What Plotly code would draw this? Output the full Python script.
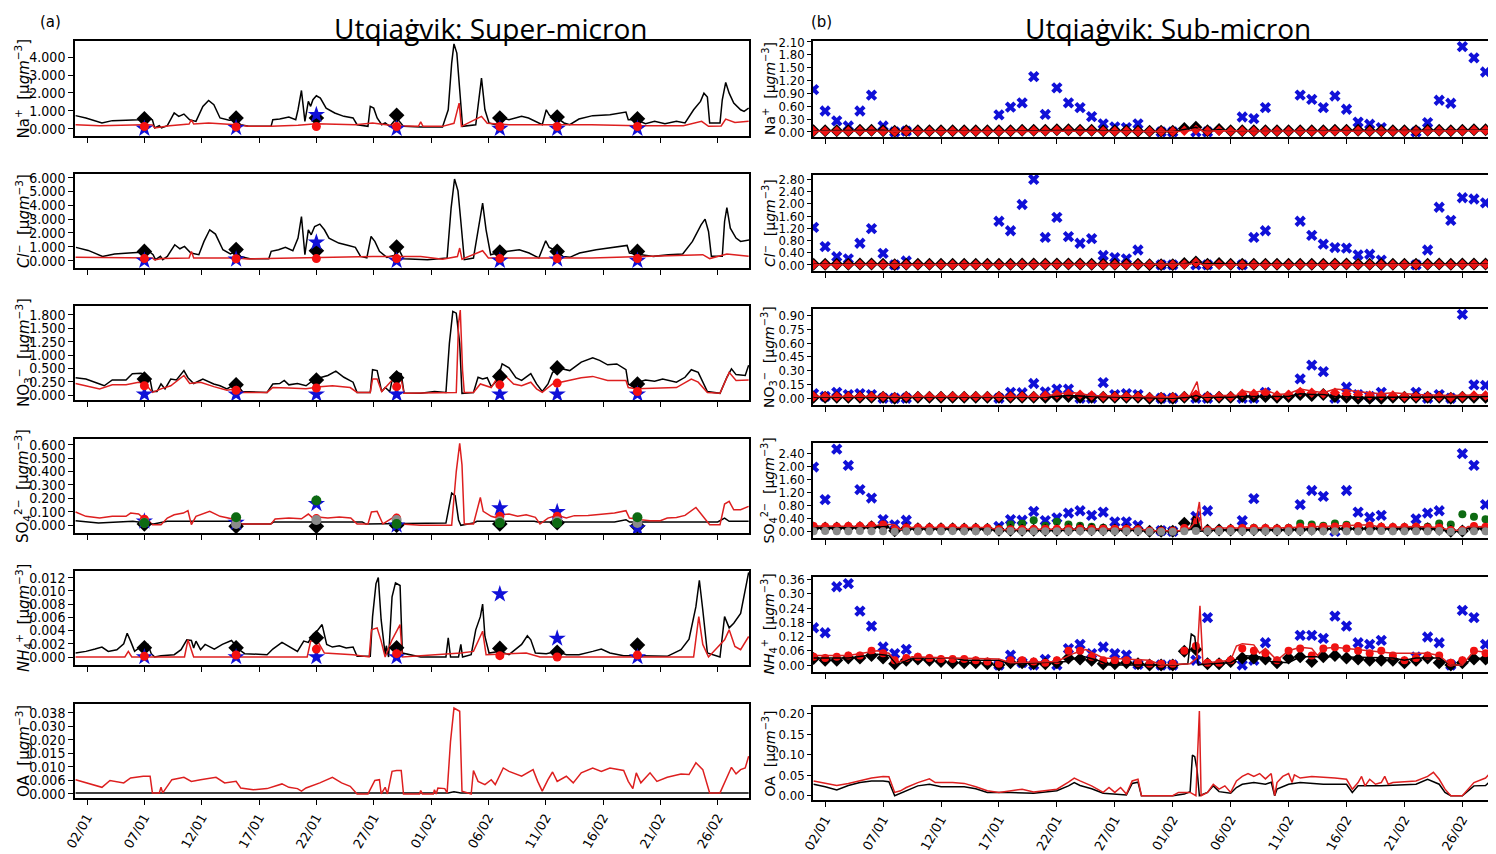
import pandas as pd
import plotly.graph_objects as go

START = pd.Timestamp("2020-01-01")

# ---------------- super-micron (left column), days since 1 Jan ----------------
SUP_DAYS = [6, 14, 21, 28, 37, 42, 49]

NA_SUP_BLK_T = [0, 0.9, 2.3, 3.2, 4.4, 5.5, 6.1, 6.7, 6.9, 7.3, 7.5, 8.0, 8.6, 9.0, 9.45, 9.95, 10.5, 11.1, 11.6, 12.06,
                12.6, 13.4, 14.0, 14.4, 15.1, 17.05, 17.2, 17.8, 18.6, 19.2, 19.4, 19.7, 20.0, 20.3, 20.5, 20.7, 21.0,
                21.35, 21.85, 22.6, 23.4, 24.2, 24.55, 25.5, 25.7, 26.0, 26.3, 26.7, 27.0, 27.4, 28.0, 28.6, 30.1, 32.0,
                32.5, 32.8, 33.0, 33.25, 33.5, 33.75, 34.9, 35.2, 35.4, 35.7, 36.06, 36.6, 37.2, 37.8, 38.4, 38.9, 39.5,
                40.1, 40.7, 41.05, 41.3, 41.6, 42.0, 42.6, 43.1, 43.9, 45.1, 46.6, 48.0, 48.2, 48.9, 49.7, 50.5, 51.4,
                52.4, 53.15, 53.9, 54.5, 54.8, 55.1, 55.3, 56.2, 56.4, 56.7, 57.0, 57.4, 58.0, 58.3, 58.7]
NA_SUP_BLK_V = [0.73, 0.6, 0.32, 0.45, 0.47, 0.5, 0.6, 0.5, 0.04, 0.17, 0.04, 0.17, 0.88, 0.69, 0.82, 0.5, 0.41, 1.25, 1.58,
                1.34, 0.6, 0.47, 0.5, 0.22, 0.13, 0.13, 0.5, 0.54, 0.65, 0.5, 1.06, 2.14, 0.41, 1.53, 1.25, 1.62, 1.84,
                1.71, 1.15, 0.88, 0.69, 0.6, 0.22, 0.13, 1.25, 1.15, 0.6, 0.22, 0.32, 0.13, 0.6, 0.13, 0.09, 0.09, 1.06,
                3.67, 4.75, 4.23, 2.18, 0.13, 0.22, 1.99, 2.83, 1.06, 0.32, 0.22, 0.6, 0.5, 0.6, 0.69, 0.6, 0.41, 0.22,
                1.06, 0.78, 0.6, 0.6, 0.32, 0.22, 0.54, 0.73, 0.78, 0.93, 0.5, 0.5, 0.28, 0.41, 0.28, 0.41, 0.32, 1.06,
                1.53, 1.99, 1.77, 0.32, 0.32, 1.62, 2.59, 1.99, 1.43, 1.06, 0.97, 1.15]
NA_SUP_RED_T = [0, 2.1, 5.9, 6.7, 6.9, 7.4, 8.2, 9.9, 10.1, 10.3, 11.6, 14.0, 15.1, 17.05, 19.4, 21.0, 24.4, 25.9, 27.8,
                29.9, 30.1, 30.3, 32.0, 33.0, 33.45, 33.65, 35.4, 35.9, 37.8, 41.0, 45.0, 49.0, 53.0, 54.6, 55.2, 56.3,
                56.7, 57.5, 58.7]
NA_SUP_RED_V = [0.22, 0.17, 0.22, 0.2, 0.04, 0.1, 0.17, 0.26, 0.5, 0.26, 0.32, 0.22, 0.13, 0.13, 0.19, 0.28, 0.22, 0.32,
                0.17, 0.13, 0.38, 0.13, 0.13, 0.3, 1.43, 0.13, 0.69, 0.3, 0.22, 0.22, 0.22, 0.17, 0.17, 0.41, 0.13, 0.15,
                0.54, 0.35, 0.41]
NA_SUP_BLK_M = [0.55, 0.6, 0.6, 0.75, 0.6, 0.65, 0.55]
NA_SUP_RED_M = [0.12, 0.1, 0.12, 0.12, 0.12, 0.12, 0.12]
NA_SUP_BLU_M = [0.0, 0.05, 0.78, 0.0, 0.0, 0.0, 0.0]

CL_SUP_BLK_T = [0.03, 1.1, 2.35, 3.4, 4.66, 5.7, 6.35, 6.76, 6.97, 7.4, 7.6, 8.0, 8.65, 9.1, 9.5, 10.05, 10.75, 11.2, 11.7,
                12.2, 12.85, 13.5, 14.0, 14.4, 15.2, 16.85, 17.06, 17.7, 18.3, 18.95, 19.4, 19.7, 20.0, 20.3, 20.55,
                20.85, 21.3, 21.7, 22.1, 22.95, 23.8, 24.4, 24.85, 25.4, 25.77, 26.1, 26.5, 27.15, 27.8, 28.1, 28.6,
                30.7, 32.4, 32.75, 33.05, 33.35, 33.6, 33.9, 34.7, 35.15, 35.5, 35.8, 36.2, 37.0, 37.9, 38.7, 39.55,
                40.4, 41.0, 41.3, 41.9, 42.5, 43.1, 43.95, 45.4, 47.1, 48.1, 48.3, 49.2, 50.4, 51.7, 52.95, 53.8, 54.55,
                54.9, 55.2, 55.45, 56.4, 56.6, 56.8, 57.1, 57.6, 58.0, 58.8]
CL_SUP_BLK_V = [0.96, 0.74, 0.31, 0.48, 0.55, 0.6, 0.72, 0.43, 0.07, 0.31, 0.07, 0.31, 1.15, 0.86, 1.03, 0.55, 0.43, 1.39,
                2.23, 1.92, 0.79, 0.48, 0.67, 0.31, 0.14, 0.14, 0.67, 0.79, 0.96, 0.72, 1.63, 3.19, 0.43, 2.23, 1.87,
                2.47, 2.64, 2.23, 1.63, 1.27, 1.1, 0.96, 0.31, 0.2, 1.75, 1.39, 0.67, 0.24, 0.38, 0.98, 0.14, 0.07, 0.19,
                3.79, 5.9, 5.04, 2.83, 0.07, 0.19, 2.59, 4.15, 2.23, 0.43, 0.6, 0.72, 0.79, 0.55, 0.19, 1.44, 0.96, 0.72,
                0.31, 0.24, 0.55, 0.79, 0.96, 1.1, 0.55, 0.43, 0.31, 0.43, 0.48, 1.39, 2.59, 3.0, 2.11, 0.31, 0.31, 2.83,
                3.84, 2.35, 1.63, 1.39, 1.51]
CL_SUP_RED_T = [0, 6.7, 6.9, 7.5, 9.9, 10.1, 10.3, 14.0, 15.0, 25.9, 30.1, 32.0, 33.3, 33.5, 33.7, 35.5, 36.0, 45.0, 54.7,
                55.3, 56.8, 58.7]
CL_SUP_RED_V = [0.24, 0.2, 0.05, 0.15, 0.2, 0.67, 0.2, 0.2, 0.12, 0.3, 0.3, 0.1, 0.3, 0.91, 0.1, 0.72, 0.2, 0.2, 0.43,
                0.15, 0.48, 0.31]
CL_SUP_BLK_M = [0.67, 0.8, 0.72, 0.98, 0.62, 0.67, 0.67]
CL_SUP_RED_M = [0.15, 0.14, 0.15, 0.15, 0.15, 0.15, 0.15]
CL_SUP_BLU_M = [0.0, 0.1, 1.32, 0.0, 0.0, 0.1, 0.0]

NO3_SUP_BLK_T = [0, 0.9, 2.1, 2.5, 3.2, 4.4, 4.95, 5.7, 6.1, 6.5, 6.7, 7.1, 7.45, 7.8, 8.3, 8.8, 9.45, 9.8, 10.3, 11.1,
                 12.05, 12.6, 13.2, 14.0, 14.55, 16.7, 17.2, 17.8, 18.2, 18.6, 19.35, 20.1, 20.7, 21.3, 22.0, 22.7,
                 23.4, 24.2, 24.55, 25.7, 25.9, 26.3, 26.7, 27.0, 27.4, 27.7, 28.0, 28.4, 28.65, 30.1, 31.3, 32.3, 32.6,
                 32.9, 33.2, 33.5, 33.7, 34.7, 35.1, 35.5, 35.9, 36.25, 36.8, 37.2, 37.8, 38.4, 38.9, 39.7, 40.2, 40.7,
                 41.2, 41.6, 42.4, 43.1, 44.1, 45.1, 45.7, 46.4, 47.2, 48.0, 48.2, 48.7, 49.1, 49.7, 50.5, 51.2, 52.4,
                 53.15, 53.7, 54.3, 55.1, 56.2, 56.8, 57.2, 57.6, 58.4, 58.7]
NO3_SUP_BLK_V = [0.39, 0.36, 0.25, 0.21, 0.34, 0.34, 0.48, 0.49, 0.46, 0.34, 0.08, 0.08, 0.25, 0.14, 0.36, 0.34, 0.55,
                 0.39, 0.26, 0.36, 0.25, 0.21, 0.14, 0.26, 0.08, 0.06, 0.25, 0.26, 0.33, 0.23, 0.26, 0.21, 0.33, 0.39,
                 0.44, 0.54, 0.4, 0.29, 0.06, 0.06, 0.57, 0.55, 0.08, 0.17, 0.08, 0.46, 0.51, 0.48, 0.04, 0.04, 0.08,
                 0.06, 1.16, 1.88, 1.84, 1.16, 0.04, 0.06, 0.4, 0.36, 0.39, 0.19, 0.34, 0.7, 0.61, 0.39, 0.33, 0.48,
                 0.25, 0.08, 0.25, 0.51, 0.59, 0.55, 0.74, 0.84, 0.78, 0.68, 0.7, 0.57, 0.25, 0.17, 0.29, 0.34, 0.31,
                 0.36, 0.29, 0.4, 0.57, 0.51, 0.08, 0.04, 0.4, 0.59, 0.46, 0.44, 0.67]
NO3_SUP_RED_T = [0, 0.9, 2.1, 3.2, 4.4, 5.5, 6.1, 6.7, 7.45, 8.3, 9.45, 9.95, 10.9, 12.05, 13.2, 14.0, 14.55, 16.7, 17.2,
                 18.6, 20.1, 21.3, 22.4, 23.95, 24.55, 25.7, 25.9, 26.3, 26.7, 27.7, 28.4, 28.65, 32.0, 33.2, 33.4,
                 33.55, 33.75, 33.9, 34.7, 35.3, 36.25, 37.0, 37.6, 38.2, 38.9, 39.7, 40.2, 40.7, 41.6, 42.8, 44.1,
                 45.1, 46.4, 48.0, 48.2, 48.9, 50.5, 52.4, 53.7, 54.3, 55.1, 56.2, 57.0, 57.6, 58.7]
NO3_SUP_RED_V = [0.26, 0.21, 0.14, 0.23, 0.23, 0.29, 0.25, 0.06, 0.14, 0.21, 0.44, 0.26, 0.29, 0.19, 0.11, 0.14, 0.06,
                 0.06, 0.17, 0.16, 0.14, 0.19, 0.21, 0.17, 0.06, 0.06, 0.36, 0.36, 0.08, 0.36, 0.34, 0.04, 0.06, 0.06,
                 1.61, 1.91, 0.55, 0.06, 0.06, 0.25, 0.17, 0.48, 0.4, 0.25, 0.21, 0.29, 0.14, 0.06, 0.25, 0.31, 0.39,
                 0.42, 0.33, 0.33, 0.17, 0.14, 0.16, 0.17, 0.36, 0.29, 0.06, 0.04, 0.51, 0.33, 0.34]
NO3_SUP_BLK_M = [0.36, 0.23, 0.34, 0.39, 0.42, 0.61, 0.25]
NO3_SUP_RED_M = [0.21, 0.11, 0.16, 0.19, 0.23, 0.27, 0.08]
NO3_SUP_BLU_M = [0.02, 0.02, 0.02, 0.02, 0.02, 0.02, 0.02]

SO4_SUP_BLK_T = [0, 2.0, 5.0, 6.8, 8.0, 14.0, 14.5, 17.0, 17.3, 25.0, 25.3, 32.3, 32.8, 33.1, 33.4, 33.6, 34.7, 35.0,
                 40.0, 40.3, 47.0, 48.0, 48.3, 56.0, 56.6, 57.0, 58.7]
SO4_SUP_BLK_V = [0.035, 0.017, 0.03, 0.01, 0.03, 0.03, 0.01, 0.01, 0.025, 0.025, 0.01, 0.017, 0.24, 0.22, 0.04, 0.0,
                 0.017, 0.03, 0.03, 0.025, 0.025, 0.042, 0.025, 0.025, 0.054, 0.03, 0.03]
SO4_SUP_RED_T = [0, 0.9, 2.1, 3.2, 4.4, 4.8, 5.5, 5.9, 6.3, 6.7, 7.45, 8.0, 8.6, 9.4, 9.8, 10.1, 10.5, 11.7, 12.6, 14.0,
                 14.4, 17.05, 17.4, 18.6, 19.7, 20.3, 20.7, 21.1, 22.0, 23.0, 24.0, 24.55, 25.5, 25.8, 26.3, 26.8,
                 27.6, 28.0, 28.4, 30.1, 32.8, 33.2, 33.5, 33.7, 33.9, 34.7, 35.3, 35.55, 36.25, 36.8, 37.2, 37.8,
                 38.55, 39.3, 40.1, 40.5, 41.2, 42.0, 42.8, 43.5, 44.7, 45.85, 47.0, 48.0, 48.3, 49.3, 50.1, 51.0,
                 51.6, 52.4, 53.15, 54.1, 54.5, 55.3, 56.2, 56.6, 57.0, 57.4, 58.0, 58.7]
SO4_SUP_RED_V = [0.099, 0.067, 0.054, 0.067, 0.067, 0.091, 0.084, 0.054, 0.042, 0.005, 0.005, 0.054, 0.079, 0.091,
                 0.109, 0.005, 0.067, 0.104, 0.067, 0.042, 0.01, 0.01, 0.047, 0.054, 0.049, 0.084, 0.054, 0.062, 0.054,
                 0.062, 0.054, 0.01, 0.01, 0.099, 0.104, 0.01, 0.054, 0.079, 0.01, 0.0, 0.0, 0.4, 0.61, 0.45, 0.01,
                 0.01, 0.207, 0.104, 0.067, 0.054, 0.079, 0.084, 0.067, 0.079, 0.059, 0.01, 0.054, 0.074, 0.054, 0.072,
                 0.074, 0.084, 0.091, 0.109, 0.054, 0.042, 0.035, 0.035, 0.054, 0.059, 0.074, 0.133, 0.091, 0.005,
                 0.005, 0.158, 0.178, 0.116, 0.116, 0.141]
SO4_SUP_BLK_M = [0.01, -0.007, -0.007, 0.0, 0.01, 0.02, -0.005]
SO4_SUP_RED_M = [0.045, 0.04, 0.05, 0.054, 0.067, 0.067, 0.054]
SO4_SUP_BLU_M = [0.03, 0.02, 0.16, 0.0, 0.128, 0.1, -0.02]
SO4_SUP_GRY_M = [0.02, 0.01, 0.04, 0.04, 0.03, 0.03, 0.017]
SO4_SUP_GRN_M = [0.017, 0.06, 0.185, 0.01, 0.017, 0.017, 0.06]

NH4_SUP_BLK_T = [0, 0.9, 1.7, 2.3, 2.85, 3.6, 4.2, 4.5, 4.8, 5.15, 5.7, 6.3, 6.6, 6.9, 7.45, 8.6, 9.2, 9.7, 10.1, 10.3,
                 10.5, 10.9, 11.3, 12.1, 12.8, 13.6, 14.2, 14.75, 16.7, 17.2, 18.0, 18.8, 19.35, 19.9, 20.3, 20.7,
                 21.1, 21.5, 21.9, 22.4, 23.0, 23.6, 24.2, 24.55, 25.7, 25.9, 26.2, 26.4, 26.65, 27.0, 27.1, 27.3,
                 27.6, 27.9, 28.3, 28.5, 30.1, 32.3, 32.5, 32.7, 33.4, 33.6, 33.75, 34.5, 34.9, 35.3, 35.5, 35.7, 36.06,
                 37.0, 37.8, 38.9, 39.4, 39.7, 40.1, 41.05, 42.0, 42.8, 43.9, 45.1, 45.85, 46.6, 47.8, 49.3, 51.6,
                 52.8, 53.5, 54.1, 54.4, 54.7, 55.1, 56.2, 56.6, 57.0, 57.4, 58.0, 58.4, 58.7]
NH4_SUP_BLK_V = [0.0006, 0.00085, 0.0012, 0.0015, 0.00085, 0.0011, 0.002, 0.0036, 0.0024, 0.00085, 0.0016, 0.0019, 0.0005,
                 0.0, 0.0002, 0.00035, 0.0011, 0.0026, 0.0025, 0.00135, 0.0024, 0.0011, 0.0019, 0.0012, 0.0019, 0.0025,
                 0.0012, 0.0005, 0.00035, 0.0012, 0.0022, 0.00135, 0.00085, 0.0024, 0.0022, 0.0034, 0.004, 0.0049,
                 0.0019, 0.0015, 0.0017, 0.00135, 0.0015, 0.0001, 0.0001, 0.0061, 0.0111, 0.012, 0.0056, 0.00035,
                 0.0017, 0.0, 0.0091, 0.0112, 0.0108, 0.0006, 0.0, 0.0, 0.0029, 0.0, 0.0, 0.0019, 0.0, 0.00035, 0.0041,
                 0.0061, 0.008, 0.0031, 0.0006, 0.00085, 0.00035, 0.0019, 0.0032, 0.0026, 0.0006, 0.0005, 0.00085,
                 0.00035, 0.00035, 0.00085, 0.0012, 0.0006, 0.0002, 0.0002, 0.0001, 0.0011, 0.0027, 0.0076, 0.0116,
                 0.0071, 0.0006, 0.0, 0.0061, 0.0044, 0.0051, 0.0066, 0.0101, 0.0128]
NH4_SUP_RED_T = [0, 4.3, 4.6, 4.9, 9.5, 9.8, 10.3, 20.2, 20.5, 21.1, 21.7, 24.2, 25.6, 25.8, 26.3, 26.65, 27.0, 27.6,
                 28.3, 28.5, 33.6, 34.7, 35.5, 35.8, 39.3, 40.5, 53.9, 54.35, 54.7, 55.2, 56.6, 57.0, 57.5, 58.0, 58.7]
NH4_SUP_RED_V = [0.0, 0.0, 0.00085, 0.0, 0.0, 0.0026, 0.0, 0.0, 0.0024, 0.0024, 0.0006, 0.00035, 0.0, 0.0041, 0.0044,
                 0.0024, 0.0, 0.0026, 0.0049, 0.0, 0.0006, 0.00085, 0.0039, 0.00035, 0.0006, 0.0, 0.0, 0.0061, 0.0019,
                 0.0, 0.0026, 0.0041, 0.0016, 0.0011, 0.0031]
NH4_SUP_BLK_M = [0.0014, 0.0014, 0.0029, 0.0014, 0.0013, 0.0007, 0.0018]
NH4_SUP_RED_M = [0.0001, 0.0003, 0.0012, 0.0005, 0.0002, 0.0, 0.0003]
NH4_SUP_BLU_M = [0.0, 0.0, 0.0, 0.0, 0.0095, 0.0028, 0.0]

OA_SUP_BLK_T = [0, 32.5, 33.0, 33.6, 58.7]
OA_SUP_BLK_V = [0.0005, 0.0005, 0.001, 0.0005, 0.0005]
OA_SUP_RED_T = [0, 0.9, 2.3, 3.0, 4.2, 4.8, 5.9, 6.5, 6.7, 7.3, 7.45, 7.6, 8.4, 9.45, 10.1, 10.9, 12.25, 13.0, 14.0,
                14.4, 15.5, 16.7, 18.0, 18.6, 19.35, 19.7, 20.1, 21.3, 22.4, 23.2, 23.95, 24.55, 25.5, 26.1, 26.5,
                26.65, 27.0, 27.2, 27.6, 28.0, 28.4, 28.6, 30.0, 30.1, 30.25, 31.2, 31.3, 31.45, 31.6, 32.2, 32.4,
                32.7, 33.0, 33.5, 33.7, 34.5, 34.7, 35.1, 35.7, 36.25, 36.6, 37.3, 37.8, 38.9, 39.9, 40.3, 40.7, 41.2,
                41.6, 42.0, 42.8, 43.4, 44.1, 45.1, 45.85, 46.6, 47.8, 48.2, 48.6, 48.9, 49.3, 50.1, 50.7, 51.6, 52.8,
                53.5, 54.1, 54.7, 55.3, 56.2, 56.8, 57.2, 57.6, 58.0, 58.4, 58.7]
OA_SUP_RED_V = [0.0067, 0.0052, 0.0031, 0.0063, 0.0052, 0.0075, 0.0083, 0.0083, 0.0005, 0.0005, 0.0031, 0.0005, 0.0067,
                0.0078, 0.0059, 0.0067, 0.0078, 0.0052, 0.0059, 0.0028, 0.002, 0.0025, 0.0047, 0.0031, 0.0025, 0.0013,
                0.0028, 0.0052, 0.0078, 0.0052, 0.0036, 0.0, 0.0, 0.0063, 0.0067, 0.0, 0.0031, 0.0, 0.0106, 0.011,
                0.011, 0.0, 0.0, 0.0016, 0.0, 0.0, 0.002, 0.0, 0.0028, 0.0025, 0.0005, 0.0247, 0.0403, 0.0388, 0.0013,
                0.0, 0.011, 0.0059, 0.0044, 0.0067, 0.0044, 0.0122, 0.0106, 0.0083, 0.0114, 0.0059, 0.0013, 0.0067,
                0.0103, 0.0059, 0.0083, 0.0052, 0.0099, 0.0122, 0.0106, 0.0122, 0.011, 0.0059, 0.0025, 0.0099, 0.0052,
                0.0099, 0.0059, 0.0078, 0.0094, 0.0091, 0.0146, 0.0114, 0.0005, 0.0005, 0.0075, 0.0125, 0.0094, 0.0114,
                0.0122, 0.0177]

# ---------------- sub-micron (right column): one filter per day, 1 Jan .. 28 Feb ----------------
SUB_DAYS = list(range(59))

NA_SUB_BLU = [0.99, 0.49, 0.26, 0.14, 0.49, 0.86, 0.14, 0.0, 0.02, None, None, None, None, None, None, None,
              0.40, 0.58, 0.68, 1.29, 0.41, 1.03, 0.68, 0.57, 0.36, 0.19, 0.12, 0.10, 0.19, None, 0.0, 0.0, None,
              0.0, 0.0, None, None, 0.35, 0.31, 0.57, None, None, 0.86, 0.76, 0.57, 0.84, 0.53, 0.23, 0.18, 0.10,
              None, None, 0.0, 0.22, 0.74, 0.67, 1.99, 1.73, 1.40]
NA_SUB_BLK = [0.03, 0.03, 0.03, 0.03, 0.04, 0.04, 0.03, 0.02, 0.03, 0.03, 0.03, 0.03, 0.03, 0.03, 0.03, 0.03, 0.03,
              0.03, 0.04, 0.04, 0.04, 0.05, 0.05, 0.04, 0.04, 0.03, 0.03, 0.03, 0.02, 0.02, 0.02, 0.02, 0.08, 0.11,
              0.03, 0.06, 0.03, 0.03, 0.03, 0.03, 0.03, 0.03, 0.03, 0.03, 0.03, 0.04, 0.04, 0.04, 0.03, 0.03, 0.03,
              0.03, 0.03, 0.04, 0.04, 0.03, 0.04, 0.05, 0.05]
NA_SUB_RED = [0.02, 0.02, 0.02, 0.02, 0.03, 0.03, 0.02, 0.01, 0.02, 0.02, 0.02, 0.02, 0.02, 0.02, 0.02, 0.02, 0.02,
              0.02, 0.03, 0.03, 0.03, 0.04, 0.04, 0.03, 0.03, 0.02, 0.02, 0.02, 0.01, 0.01, 0.01, 0.01, 0.03, 0.05,
              0.02, 0.03, 0.02, 0.02, 0.02, 0.02, 0.02, 0.02, 0.02, 0.02, 0.02, 0.03, 0.03, 0.03, 0.02, 0.02, 0.02,
              0.02, 0.02, 0.03, 0.03, 0.02, 0.03, 0.04, 0.04]
NA_SUB_BLK_T = [0, 6, 7, 8, 16, 22, 23, 29, 31, 32, 32.5, 33, 33.5, 34, 35, 36, 42, 50, 58.7]
NA_SUB_BLK_V = [0.03, 0.04, 0.01, 0.03, 0.02, 0.03, 0.04, 0.01, 0.01, 0.06, 0.09, 0.11, 0.04, 0.02, 0.06, 0.02, 0.03,
                0.03, 0.04]
NA_SUB_RED_T = [0, 6, 8, 16, 22, 29, 32, 33, 33.3, 33.6, 35, 45, 58.7]
NA_SUB_RED_V = [0.02, 0.03, 0.02, 0.01, 0.02, 0.01, 0.02, 0.05, 0.08, 0.02, 0.03, 0.02, 0.03]

CL_SUB_BLU = [1.23, 0.60, 0.27, 0.20, 0.71, 1.19, 0.38, 0.0, 0.13, None, None, None, None, None, None, None,
              1.43, 1.12, 1.98, 2.80, 0.90, 1.56, 0.93, 0.71, 0.86, 0.31, 0.24, 0.20, 0.49, None, 0.0, 0.0, None,
              0.0, 0.0, None, None, 0.0, 0.90, 1.12, None, None, 1.43, 0.97, 0.68, 0.57, 0.55, 0.33, 0.35, 0.16,
              None, None, 0.0, 0.49, 1.89, 1.46, 2.20, 2.16, 2.03]
CL_SUB_BLK = [0.02, 0.02, 0.02, 0.02, 0.03, 0.03, 0.02, 0.01, 0.02, 0.02, 0.02, 0.02, 0.02, 0.02, 0.02, 0.02, 0.02,
              0.02, 0.03, 0.03, 0.03, 0.03, 0.03, 0.03, 0.02, 0.02, 0.02, 0.02, 0.02, 0.01, 0.01, 0.01, 0.05, 0.10,
              0.02, 0.05, 0.02, 0.02, 0.02, 0.02, 0.02, 0.02, 0.02, 0.02, 0.02, 0.03, 0.03, 0.02, 0.02, 0.02, 0.02,
              0.02, 0.02, 0.02, 0.03, 0.02, 0.03, 0.03, 0.03]
CL_SUB_RED = [0.01, 0.01, 0.01, 0.01, 0.02, 0.02, 0.01, 0.01, 0.01, 0.01, 0.01, 0.01, 0.01, 0.01, 0.01, 0.01, 0.01,
              0.01, 0.02, 0.02, 0.02, 0.02, 0.02, 0.02, 0.01, 0.01, 0.01, 0.01, 0.01, 0.01, 0.01, 0.01, 0.02, 0.08,
              0.01, 0.02, 0.01, 0.01, 0.01, 0.01, 0.01, 0.01, 0.01, 0.01, 0.01, 0.02, 0.02, 0.01, 0.01, 0.01, 0.01,
              0.01, 0.01, 0.01, 0.02, 0.01, 0.02, 0.02, 0.02]
CL_SUB_BLK_T = [0, 31, 32, 32.7, 33.2, 33.6, 35, 36, 58.7]
CL_SUB_BLK_V = [0.02, 0.02, 0.04, 0.08, 0.1, 0.03, 0.05, 0.02, 0.02]
CL_SUB_RED_T = [0, 32.5, 33.1, 33.3, 33.6, 58.7]
CL_SUB_RED_V = [0.01, 0.02, 0.15, 0.05, 0.01, 0.01]

NO3_SUB_BLU = [0.05, 0.02, 0.065, 0.04, 0.05, 0.04, 0.0, 0.0, 0.0, None, None, None, None, None, None, None,
               0.0, 0.065, 0.06, 0.16, 0.07, 0.10, 0.10, 0.0, 0.0, 0.17, 0.04, 0.05, 0.04, None, 0.0, 0.0, None,
               0.0, 0.0, None, None, 0.0, 0.0, 0.065, None, None, 0.21, 0.36, 0.29, 0.0, 0.12, 0.04, 0.02, 0.065,
               None, None, 0.065, 0.0, 0.04, 0.0, 0.91, 0.145, 0.14]
NO3_SUB_BLK = [0.01, 0.01, 0.01, 0.01, 0.01, 0.01, 0.01, 0.0, 0.01, 0.01, 0.01, 0.01, 0.01, 0.01, 0.01, 0.01, 0.01,
               0.01, 0.01, 0.01, 0.01, 0.02, 0.02, 0.01, 0.01, 0.01, 0.01, 0.01, 0.01, 0.0, 0.0, 0.0, 0.01, 0.02,
               0.01, 0.01, 0.01, 0.02, 0.02, 0.02, 0.01, 0.02, 0.04, 0.03, 0.04, 0.02, 0.01, 0.0, 0.0, 0.0, 0.01,
               0.01, 0.01, 0.01, 0.01, 0.0, 0.01, 0.01, 0.01]
NO3_SUB_RED = [0.02, 0.02, 0.02, 0.02, 0.02, 0.02, 0.02, 0.01, 0.02, 0.02, 0.02, 0.02, 0.02, 0.02, 0.02, 0.02, 0.02,
               0.02, 0.02, 0.02, 0.03, 0.04, 0.05, 0.04, 0.03, 0.02, 0.02, 0.02, 0.02, 0.01, 0.01, 0.01, 0.02, 0.04,
               0.02, 0.02, 0.02, 0.05, 0.05, 0.06, 0.03, 0.04, 0.07, 0.06, 0.05, 0.06, 0.05, 0.04, 0.03, 0.03, 0.03,
               0.02, 0.02, 0.02, 0.02, 0.01, 0.02, 0.03, 0.03]
NO3_SUB_BLK_T = [0, 20, 22, 24, 31, 32.5, 33, 33.5, 36, 37, 41, 42, 43, 44, 45, 47, 52, 58.7]
NO3_SUB_BLK_V = [0.01, 0.01, 0.03, 0.02, 0.0, 0.01, 0.03, 0.01, 0.01, 0.02, 0.02, 0.05, 0.04, 0.04, 0.02, 0.01, 0.01,
                 0.02]
NO3_SUB_RED_T = [0, 20, 21, 22.5, 24, 28, 31, 32.5, 33.1, 33.3, 33.6, 35, 36.5, 37, 38, 39, 40, 41, 42, 43, 44, 45, 46,
                 47, 49, 50, 52, 55, 58.7]
NO3_SUB_RED_V = [0.02, 0.02, 0.05, 0.06, 0.03, 0.02, 0.01, 0.03, 0.18, 0.04, 0.02, 0.03, 0.03, 0.08, 0.06, 0.09, 0.04,
                 0.05, 0.1, 0.08, 0.06, 0.1, 0.09, 0.07, 0.05, 0.06, 0.04, 0.03, 0.04]

SO4_SUB_BLU = [1.97, 0.97, 2.52, 2.02, 1.28, 1.02, 0.36, 0.20, 0.34, None, None, None, None, None, None, None,
               0.15, 0.36, 0.34, 0.61, 0.33, 0.41, 0.56, 0.63, 0.49, 0.59, 0.29, 0.29, 0.18, None, 0.02, 0.0, None,
               0.46, 0.63, None, None, 0.33, 1.00, None, None, None, 0.82, 1.25, 1.07, 0.0, 1.25, 0.59, 0.43, 0.49,
               None, None, 0.38, 0.56, 0.63, None, 2.38, 2.02, 0.82]
SO4_SUB_BLK = [0.10, 0.10, 0.10, 0.11, 0.12, 0.14, 0.15, 0.02, 0.08, 0.08, 0.08, 0.08, 0.08, 0.07, 0.07, 0.06, 0.03,
               0.03, 0.03, 0.03, 0.03, 0.03, 0.05, 0.06, 0.05, 0.05, 0.04, 0.04, 0.04, 0.0, 0.0, 0.0, 0.25, 0.10,
               0.03, 0.04, 0.04, 0.05, 0.05, 0.05, 0.04, 0.05, 0.05, 0.06, 0.07, 0.08, 0.08, 0.08, 0.09, 0.09, 0.08,
               0.08, 0.09, 0.08, 0.06, 0.0, 0.01, 0.09, 0.08]
SO4_SUB_RED = [0.16, 0.15, 0.15, 0.16, 0.16, 0.18, 0.21, 0.06, 0.12, 0.12, 0.12, 0.12, 0.12, 0.11, 0.11, 0.10, 0.06,
               0.06, 0.07, 0.07, 0.08, 0.08, 0.09, 0.09, 0.08, 0.08, 0.08, 0.08, 0.06, 0.02, 0.02, 0.02, 0.10, 0.34,
               0.05, 0.05, 0.08, 0.10, 0.10, 0.10, 0.09, 0.10, 0.13, 0.14, 0.14, 0.15, 0.16, 0.16, 0.18, 0.14, 0.13,
               0.13, 0.14, 0.12, 0.12, 0.04, 0.04, 0.16, 0.14]
SO4_SUB_GRN = [0.12, 0.10, 0.10, 0.12, 0.13, 0.15, 0.18, 0.04, 0.09, 0.08, 0.08, 0.08, 0.08, 0.08, 0.07, 0.07, 0.08,
               0.21, 0.24, 0.34, 0.17, 0.29, 0.21, 0.17, 0.14, 0.11, 0.08, 0.07, 0.05, 0.01, 0.01, 0.01, 0.05, 0.20,
               0.03, 0.03, 0.05, 0.08, 0.10, 0.08, 0.08, 0.10, 0.24, 0.21, 0.17, 0.24, 0.20, 0.15, 0.12, 0.12, 0.10,
               0.10, 0.12, 0.14, 0.24, 0.21, 0.52, 0.45, 0.37]
SO4_SUB_GRY = [0.0, 0.01, 0.0, 0.0, 0.01, 0.0, 0.0, -0.01, 0.0, 0.0, 0.0, 0.0, 0.01, 0.0, 0.0, 0.0, 0.0, 0.01, 0.0,
               0.0, 0.0, 0.0, 0.0, 0.01, 0.0, 0.0, 0.0, 0.0, 0.0, -0.01, -0.01, -0.01, 0.0, 0.01, 0.0, 0.0, 0.0,
               0.0, 0.01, 0.0, 0.0, 0.0, 0.0, 0.01, 0.0, 0.0, 0.0, 0.0, 0.0, 0.01, 0.0, 0.0, 0.0, 0.0, 0.01, -0.01,
               0.0, 0.0, 0.0]
SO4_SUB_BLK_T = [0, 5, 6.3, 7, 8, 15, 16, 22, 23, 28, 29, 31.5, 32.5, 32.8, 33.1, 33.3, 34, 40, 45, 52, 54, 55, 56, 56.5,
                 58.7]
SO4_SUB_BLK_V = [0.1, 0.12, 0.15, 0.0, 0.08, 0.08, 0.03, 0.03, 0.06, 0.05, 0.0, 0.0, 0.05, 0.45, 0.4, 0.0, 0.03, 0.05,
                 0.08, 0.1, 0.06, 0.0, 0.0, 0.1, 0.08]
SO4_SUB_RED_T = [0, 5, 6, 7, 7.5, 8, 15, 16, 20, 28, 29, 31.5, 32.5, 33.0, 33.3, 33.5, 34, 35, 40, 45, 48, 49, 52, 54,
                 55, 56, 56.5, 58.7]
SO4_SUB_RED_V = [0.16, 0.15, 0.22, 0.2, 0.05, 0.12, 0.12, 0.05, 0.06, 0.08, 0.02, 0.02, 0.1, 0.3, 0.9, 0.05, 0.05, 0.1,
                 0.1, 0.15, 0.2, 0.12, 0.15, 0.12, 0.03, 0.03, 0.15, 0.14]

NH4_SUB_BLU = [0.157, 0.136, 0.33, 0.343, 0.227, 0.164, 0.076, 0.048, 0.066, None, None, None, None, None, None, None,
               0.0, 0.042, 0.01, 0.0, 0.024, 0.0, 0.069, 0.087, 0.048, 0.076, 0.048, 0.042, 0.003, None, 0.0, 0.0,
               None, 0.02, 0.2, None, None, 0.0, 0.02, 0.094, None, None, 0.125, 0.125, 0.112, 0.206, 0.164, 0.094,
               0.087, 0.104, None, None, 0.034, 0.118, 0.094, 0.0, 0.23, 0.2, 0.087]
NH4_SUB_BLK = [0.028, 0.02, 0.02, 0.03, 0.03, 0.04, 0.03, 0.005, 0.02, 0.025, 0.02, 0.015, 0.01, 0.01, 0.01, 0.005,
               0.0, 0.01, 0.01, 0.005, 0.005, 0.01, 0.03, 0.025, 0.02, 0.005, 0.005, 0.01, 0.005, 0.0, 0.0, 0.0,
               0.058, 0.065, 0.005, 0.005, 0.015, 0.03, 0.03, 0.025, 0.01, 0.03, 0.035, 0.015, 0.035, 0.04, 0.03,
               0.025, 0.02, 0.02, 0.02, 0.01, 0.02, 0.03, 0.01, 0.0, 0.01, 0.025, 0.025]
NH4_SUB_RED = [0.035, 0.03, 0.035, 0.04, 0.04, 0.06, 0.05, 0.02, 0.03, 0.035, 0.03, 0.025, 0.025, 0.025, 0.02, 0.015,
               0.005, 0.02, 0.02, 0.015, 0.01, 0.02, 0.06, 0.06, 0.035, 0.02, 0.02, 0.02, 0.01, 0.005, 0.005, 0.005,
               0.06, 0.08, 0.01, 0.01, 0.02, 0.07, 0.06, 0.05, 0.02, 0.06, 0.07, 0.04, 0.07, 0.075, 0.07, 0.06, 0.05,
               0.06, 0.04, 0.02, 0.03, 0.04, 0.04, 0.01, 0.02, 0.06, 0.05]
NH4_SUB_BLK_T = [0, 3, 5.5, 6.5, 7.2, 8.5, 12, 13, 16, 17, 22, 23, 24.5, 25.5, 31, 32.3, 32.6, 32.9, 33.2, 34, 36, 37,
                 38.5, 39.5, 41, 42, 45, 50, 51, 52, 54, 55, 56, 57, 58.7]
NH4_SUB_BLK_V = [0.03, 0.03, 0.045, 0.04, 0.0, 0.03, 0.03, 0.02, 0.02, 0.005, 0.015, 0.04, 0.02, 0.0, 0.0, 0.005, 0.13,
                 0.12, 0.0, 0.005, 0.01, 0.04, 0.035, 0.015, 0.01, 0.035, 0.035, 0.03, 0.02, 0.03, 0.03, 0.0, 0.0,
                 0.03, 0.025]
NH4_SUB_RED_T = [0, 3, 5.5, 6.5, 7.2, 8.5, 12, 16, 17, 21, 22.5, 23.5, 25, 29, 30, 32.5, 33.1, 33.35, 33.6, 34, 36,
                 36.5, 37, 38, 38.5, 39, 40, 41, 42, 43, 43.5, 44, 45, 46, 48, 50, 53, 54, 55, 56, 57, 58.7]
NH4_SUB_RED_V = [0.04, 0.04, 0.06, 0.05, 0.01, 0.035, 0.03, 0.025, 0.01, 0.015, 0.05, 0.065, 0.03, 0.02, 0.0, 0.005,
                 0.03, 0.25, 0.01, 0.01, 0.02, 0.08, 0.09, 0.085, 0.05, 0.07, 0.02, 0.06, 0.075, 0.07, 0.04, 0.07,
                 0.075, 0.07, 0.06, 0.05, 0.05, 0.04, 0.0, 0.0, 0.06, 0.05]

OA_SUB_BLK_T = [0, 1, 2, 3, 4, 5, 6, 6.5, 7, 8, 9, 10, 11, 13, 14, 15, 17, 19, 21, 22, 22.5, 23, 24, 25, 27, 27.5, 28,
                28.3, 31, 32, 32.5, 32.7, 32.9, 33.1, 33.3, 34, 34.5, 35, 36, 36.5, 37, 38, 39, 39.5, 39.8, 40, 41, 42,
                44, 46, 46.5, 47, 49, 52, 53, 54, 54.5, 55, 56, 57, 58, 58.7]
OA_SUB_BLK_V = [0.028, 0.022, 0.014, 0.025, 0.032, 0.036, 0.036, 0.034, 0.0, 0.012, 0.024, 0.028, 0.022, 0.022, 0.017,
                0.008, 0.008, 0.006, 0.012, 0.024, 0.032, 0.025, 0.017, 0.006, 0.002, 0.03, 0.033, 0.0, 0.0, 0.004,
                0.01, 0.099, 0.095, 0.063, 0.0, 0.008, 0.024, 0.01, 0.006, 0.02, 0.028, 0.032, 0.028, 0.033, 0.0,
                0.016, 0.028, 0.032, 0.028, 0.028, 0.008, 0.024, 0.024, 0.028, 0.04, 0.028, 0.008, 0.0, 0.0, 0.024,
                0.025, 0.043]
OA_SUB_RED_T = [0, 1, 2, 3, 4, 5, 6, 6.5, 7, 7.5, 8, 9, 10, 10.5, 12, 13, 14, 15, 16, 17, 18, 19, 20, 21, 22, 22.5,
                23, 24, 25, 25.5, 26, 26.5, 27, 27.5, 28, 28.3, 31, 31.5, 32.5, 32.9, 33.0, 33.3, 33.45, 34, 34.5, 35,
                35.5, 36, 36.5, 37, 37.5, 38, 38.5, 39, 39.5, 39.8, 40, 40.5, 41, 41.3, 41.5, 42, 43, 45, 46, 46.5, 47,
                47.3, 47.6, 48, 48.5, 49, 49.3, 49.6, 50, 52, 53, 53.5, 54, 54.5, 55, 56, 56.5, 57, 58, 58.7]
OA_SUB_RED_V = [0.036, 0.03, 0.025, 0.03, 0.036, 0.043, 0.047, 0.046, 0.008, 0.012, 0.02, 0.032, 0.041, 0.032, 0.032,
                0.03, 0.022, 0.012, 0.008, 0.012, 0.016, 0.009, 0.012, 0.016, 0.033, 0.043, 0.036, 0.024, 0.008,
                0.02, 0.008, 0.02, 0.004, 0.036, 0.04, 0.0, 0.0, 0.008, 0.008, 0.0, 0.0, 0.206, 0.0, 0.008, 0.028,
                0.016, 0.024, 0.008, 0.036, 0.047, 0.054, 0.047, 0.054, 0.041, 0.054, 0.0, 0.032, 0.047, 0.054, 0.032,
                0.051, 0.043, 0.047, 0.043, 0.04, 0.016, 0.032, 0.047, 0.024, 0.04, 0.028, 0.032, 0.047, 0.028, 0.032,
                0.036, 0.047, 0.057, 0.04, 0.016, 0.0, 0.0, 0.016, 0.032, 0.043, 0.065]

UNIT = "  [μ<i>gm</i><sup>−3</sup>]"

# ---------------------------------- drawing ----------------------------------
W, H = 1496, 854
LINE_RED = "#dd1f1f"
MARK_RED = "#f41010"
BLUE = "#1010d8"
GREEN = "#0d6a12"
GRAY = "#8a8a8a"


def when(days):
    return [START + pd.Timedelta(days=d) for d in days]


fig = go.Figure()


def line(ax, t, v, color):
    fig.add_trace(go.Scatter(x=when(t), y=v, mode="lines", line=dict(color=color, width=1.5),
                             xaxis="x" + ax, yaxis="y" + ax, showlegend=False, hoverinfo="skip"))


def marks(ax, t, v, symbol, size, color):
    fig.add_trace(go.Scatter(x=when(t), y=v, mode="markers",
                             marker=dict(symbol=symbol, size=size, color=color, line=dict(width=0)),
                             xaxis="x" + ax, yaxis="y" + ax, showlegend=False, hoverinfo="skip"))


# panel boxes in pixels (top, bottom) for each row
LEFT_ROWS = [(33, 128), (166, 260), (298, 392), (431, 525), (563, 657), (696, 790)]
RIGHT_ROWS = [(33, 129), (167, 263), (301, 397), (435, 530), (569, 664), (699, 792)]
LEFT_X = (67, 741)
RIGHT_X = (805, 1486)


def lin(a, b, n):
    return [a + (b - a) * i / (n - 1) for i in range(n)]


panels = [
    # left column
    dict(title="Na<sup>+</sup>" + UNIT, rng=[-0.41, 4.91], vals=[0, 1, 2, 3, 4], fmt=".3f"),
    dict(title="<i>Cl</i><sup>−</sup>" + UNIT, rng=[-0.53, 6.26], vals=[0, 1, 2, 3, 4, 5, 6], fmt=".3f"),
    dict(title="NO<sub>3</sub><sup>−</sup>" + UNIT, rng=[-0.11, 2.0], vals=[0, 0.3, 0.6, 0.9, 1.2, 1.5, 1.8],
         text=["0.000", "0.250", "0.500", "1.000", "1.250", "1.500", "1.800"]),
    dict(title="SO<sub>4</sub><sup>2−</sup>" + UNIT, rng=[-0.057, 0.642], vals=lin(0, 0.6, 7), fmt=".3f"),
    dict(title="<i>NH</i><sub>4</sub><sup>+</sup>" + UNIT, rng=[-0.00121, 0.0130], vals=lin(0, 0.012, 7), fmt=".3f"),
    dict(title="OA" + UNIT, rng=[-0.0019, 0.0422], vals=lin(0, 0.038, 7),
         text=["0.000", "0.006", "0.010", "0.015", "0.020", "0.030", "0.038"]),
    # right column
    dict(title="Na<sup>+</sup>" + UNIT, rng=[-0.117, 2.123], vals=lin(0, 2.1, 8), fmt=".2f"),
    dict(title="<i>Cl</i><sup>−</sup>" + UNIT, rng=[-0.198, 2.945], vals=lin(0, 2.8, 8), fmt=".2f"),
    dict(title="NO<sub>3</sub><sup>−</sup>" + UNIT, rng=[-0.073, 0.969], vals=lin(0, 0.9, 7), fmt=".2f"),
    dict(title="SO<sub>4</sub><sup>2−</sup>" + UNIT, rng=[-0.205, 2.707], vals=lin(0, 2.4, 7), fmt=".2f"),
    dict(title="<i>NH</i><sub>4</sub><sup>+</sup>" + UNIT, rng=[-0.0294, 0.371], vals=lin(0, 0.36, 7), fmt=".2f"),
    dict(title="OA" + UNIT, rng=[-0.0104, 0.216], vals=lin(0, 0.2, 5), fmt=".2f"),
]

# --- left column traces ---
sup = [
    (NA_SUP_BLK_T, NA_SUP_BLK_V, NA_SUP_RED_T, NA_SUP_RED_V, NA_SUP_BLK_M, NA_SUP_RED_M, NA_SUP_BLU_M),
    (CL_SUP_BLK_T, CL_SUP_BLK_V, CL_SUP_RED_T, CL_SUP_RED_V, CL_SUP_BLK_M, CL_SUP_RED_M, CL_SUP_BLU_M),
    (NO3_SUP_BLK_T, NO3_SUP_BLK_V, NO3_SUP_RED_T, NO3_SUP_RED_V, NO3_SUP_BLK_M, NO3_SUP_RED_M, NO3_SUP_BLU_M),
    (SO4_SUP_BLK_T, SO4_SUP_BLK_V, SO4_SUP_RED_T, SO4_SUP_RED_V, SO4_SUP_BLK_M, SO4_SUP_RED_M, SO4_SUP_BLU_M),
    (NH4_SUP_BLK_T, NH4_SUP_BLK_V, NH4_SUP_RED_T, NH4_SUP_RED_V, NH4_SUP_BLK_M, NH4_SUP_RED_M, NH4_SUP_BLU_M),
]
for i, (bt, bv, rt, rv, bm, rm, um) in enumerate(sup):
    ax = str(i + 1)
    line(ax, bt, bv, "black")
    line(ax, rt, rv, LINE_RED)
    marks(ax, SUP_DAYS, bm, "diamond", 12, "black")
    marks(ax, SUP_DAYS, um, "star", 13, BLUE)
    marks(ax, SUP_DAYS, rm, "circle", 9, MARK_RED)
    if i == 3:
        marks(ax, SUP_DAYS, SO4_SUP_GRY_M, "circle", 10, GRAY)
        marks(ax, SUP_DAYS, SO4_SUP_GRN_M, "circle", 10, GREEN)
line("6", OA_SUP_BLK_T, OA_SUP_BLK_V, "black")
line("6", OA_SUP_RED_T, OA_SUP_RED_V, LINE_RED)

# --- right column traces ---
sub = [
    (NA_SUB_BLK_T, NA_SUB_BLK_V, NA_SUB_RED_T, NA_SUB_RED_V, NA_SUB_BLK, NA_SUB_RED, NA_SUB_BLU, "diamond"),
    (CL_SUB_BLK_T, CL_SUB_BLK_V, CL_SUB_RED_T, CL_SUB_RED_V, CL_SUB_BLK, CL_SUB_RED, CL_SUB_BLU, "diamond"),
    (NO3_SUB_BLK_T, NO3_SUB_BLK_V, NO3_SUB_RED_T, NO3_SUB_RED_V, NO3_SUB_BLK, NO3_SUB_RED, NO3_SUB_BLU, "diamond"),
    (SO4_SUB_BLK_T, SO4_SUB_BLK_V, SO4_SUB_RED_T, SO4_SUB_RED_V, SO4_SUB_BLK, SO4_SUB_RED, SO4_SUB_BLU, "circle"),
    (NH4_SUB_BLK_T, NH4_SUB_BLK_V, NH4_SUB_RED_T, NH4_SUB_RED_V, NH4_SUB_BLK, NH4_SUB_RED, NH4_SUB_BLU, "circle"),
]
for i, (bt, bv, rt, rv, bm, rm, um, rsym) in enumerate(sub):
    ax = str(i + 7)
    marks(ax, SUB_DAYS, um, "x", 10, BLUE)
    if i == 3:
        marks(ax, SUB_DAYS, SO4_SUB_GRN, "circle", 8, GREEN)
    marks(ax, SUB_DAYS, bm, "diamond", 10, "black")
    marks(ax, SUB_DAYS, rm, rsym, 8, MARK_RED)
    line(ax, bt, bv, "black")
    line(ax, rt, rv, LINE_RED)
    if i == 3:
        marks(ax, SUB_DAYS, SO4_SUB_GRY, "circle", 8, GRAY)
line("12", OA_SUB_BLK_T, OA_SUB_BLK_V, "black")
line("12", OA_SUB_RED_T, OA_SUB_RED_V, LINE_RED)

# --- axes ---
TICK_FAMILY = "DejaVu Sans Condensed, Liberation Sans Narrow, DejaVu Sans"
xticks = when([1 + 5 * k for k in range(12)])
xtext = [d.strftime("%d/%m") for d in xticks]
layout = {}
annotations = []
for k, p in enumerate(panels):
    col = 0 if k < 6 else 1
    row = k % 6
    top, bot = (LEFT_ROWS if col == 0 else RIGHT_ROWS)[row]
    x0, x1 = LEFT_X if col == 0 else RIGHT_X
    n = str(k + 1)
    xkey = "xaxis" if k == 0 else "xaxis" + n
    ykey = "yaxis" if k == 0 else "yaxis" + n
    layout[xkey] = dict(
        domain=[x0 / W, x1 / W], anchor="y" + n, type="date",
        range=[START - pd.Timedelta(hours=1.2), START + pd.Timedelta(days=58.73)],
        tickvals=xticks, ticktext=xtext, showticklabels=(row == 5), tickangle=-60,
        tickfont=dict(family="DejaVu Sans", size=13, color="black"),
        ticks="outside", ticklen=5, tickwidth=1.2, tickcolor="black",
        showline=True, mirror=True, linecolor="black", linewidth=1.6,
        showgrid=False, zeroline=False, automargin=False)
    yax = dict(
        domain=[1 - bot / H, 1 - top / H], anchor="x" + n, range=p["rng"], tickvals=p["vals"],
        tickfont=dict(family=TICK_FAMILY, size=14 if col == 0 else 13, color="black"),
        ticks="outside", ticklen=5 if col == 0 else 4, tickwidth=1.2, tickcolor="black",
        showline=True, mirror=True, linecolor="black", linewidth=1.6,
        showgrid=False, zeroline=False, automargin=False)
    if "text" in p:
        yax["ticktext"] = p["text"]
    else:
        yax["tickformat"] = p["fmt"]
    layout[ykey] = yax
    annotations.append(dict(
        text=p["title"], textangle=-90, xref="paper", yref="paper",
        x=(15 if col == 0 else 761) / W, y=1 - (top + bot) / 2 / H,
        xanchor="center", yanchor="middle", showarrow=False,
        font=dict(family="DejaVu Sans", size=15 if col == 0 else 14, color="black")))

annotations += [
    dict(text="Utqiaġvik: Super-micron", x=482 / W, y=1 - 20 / H, xref="paper", yref="paper",
         showarrow=False, xanchor="center", yanchor="middle",
         font=dict(family="Open Sans", size=28, color="black")),
    dict(text="Utqiaġvik: Sub-micron", x=1160 / W, y=1 - 20 / H, xref="paper", yref="paper",
         showarrow=False, xanchor="center", yanchor="middle",
         font=dict(family="Open Sans", size=28, color="black")),
    dict(text="(a)", x=42 / W, y=1 - 14 / H, xref="paper", yref="paper", showarrow=False,
         xanchor="center", yanchor="middle", font=dict(family="DejaVu Sans", size=15, color="black")),
    dict(text="(b)", x=814 / W, y=1 - 14 / H, xref="paper", yref="paper", showarrow=False,
         xanchor="center", yanchor="middle", font=dict(family="DejaVu Sans", size=15, color="black")),
]

fig.update_layout(width=W, height=H, margin=dict(l=0, r=0, t=0, b=0), paper_bgcolor="white",
                  plot_bgcolor="white", showlegend=False, annotations=annotations, **layout)

fig.write_html("out.html")
